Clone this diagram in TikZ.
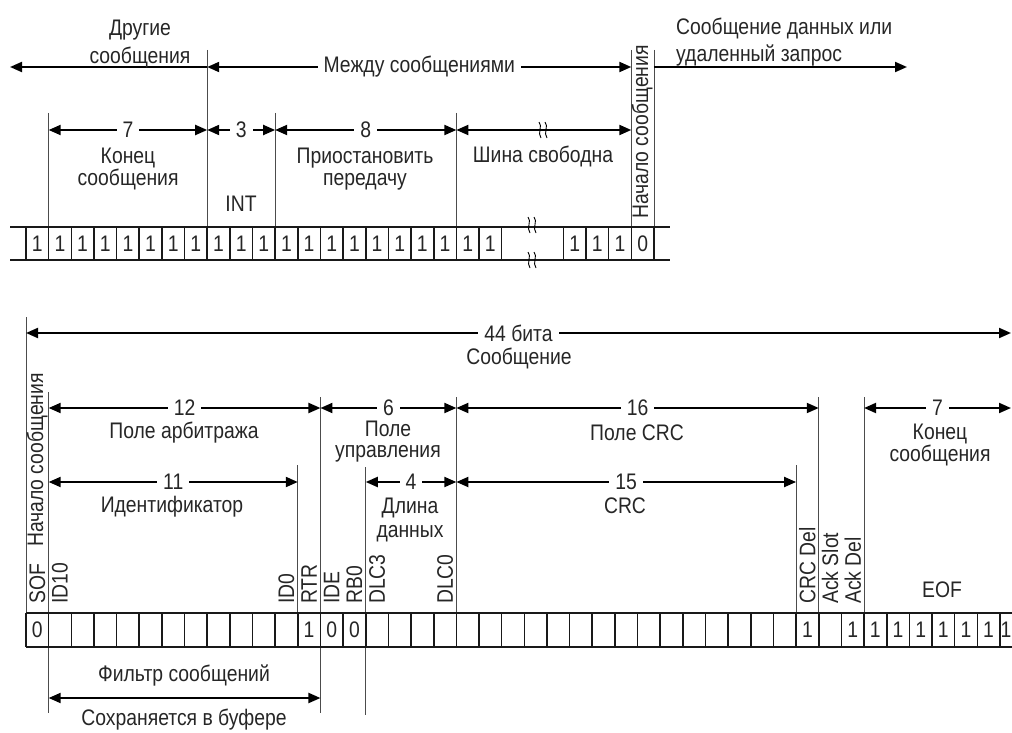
\documentclass[tikz,border=0pt]{standalone}
\usepackage{fontspec}
\setmainfont{Liberation Sans}[FakeStretch=0.86]
\usetikzlibrary{arrows.meta}

% left edge of bit k in the frame
\newcommand{\bitx}[1]{26+22.65*#1}
% break mark
\newcommand{\brkmark}[2]{%
  \begin{scope}[shift={(#1,#2)}]
    \draw[line width=0.9pt] (-4,-8) .. controls (0,-4) and (-6,3) .. (-2,8)
                            (2,-8) .. controls (6,-4) and (0,3) .. (4,8);
  \end{scope}}

\begin{document}
\begin{tikzpicture}[x=1pt,y=-1pt,
    dimline/.style={line width=2pt,{Triangle[length=12pt,width=10pt]}-{Triangle[length=12pt,width=10pt]}},
    dimto/.style={line width=2pt,-{Triangle[length=12pt,width=10pt]}},
    guide/.style={line width=0.9pt,black!70},
    cellrule/.style={line width=1.6pt,black!90},
    txt/.style={font=\fontsize{22.5}{26}\selectfont,text=black!85,inner sep=1pt,align=center},
    num/.style={txt,fill=white,inner xsep=6pt,inner ysep=0pt},
    vtxt/.style={txt,rotate=90,anchor=west,inner sep=0pt},
    bit/.style={txt,inner sep=0pt}]
  \useasboundingbox (0,0) rectangle (1012,733);
  \clip (0,0) rectangle (1012,733);

  % Interframe space: guides
  \foreach \gx/\gy in {207.2/50, 48.65/113, 275.15/113, 456.35/113, 631.3/50, 653.95/50}
    \draw[guide] (\gx,\gy) -- (\gx,227);

  % Interframe space: arrows
  \draw[dimto] (207.2,67) -- (10,67);
  \draw[dimline] (207.2,67) -- (631.3,67) node[num,midway] (betw) {Между сообщениями};
  \draw[dimto] (653.95,67) -- (907,67);
  \node[txt] (othr) at (140,44) {Другие\\[2pt]сообщения};
  \node[txt,anchor=west,align=left] (next) at (675,42) {Сообщение данных или\\[1pt]удаленный запрос};

  \draw[dimline] (48.65,130) -- (207.2,130) node[num,midway] (t7) {7};
  \draw[dimline] (207.2,130) -- (275.15,130) node[num,midway] (t3) {3};
  \draw[dimline] (275.15,130) -- (456.35,130) node[num,midway] (t8) {8};
  \draw[dimline] (456.35,130) -- (631.3,130);
  \brkmark{543}{130}

  \node[txt] (eom) at (128,169) {Конец\\[-4pt]сообщения};
  \node[txt] (int) at (241,204) {INT};
  \node[txt] (susp) at (365,169) {Приостановить\\[-4pt]передачу};
  \node[txt] (idle) at (543,156) {Шина свободна};
  \node[txt,rotate=90] (soft) at (642,132) {Начало сообщения};

  % Interframe space: bit stream
  \draw[cellrule] (10,227) -- (670,227) (10,260) -- (670,260);
  \foreach \k in {0,...,21}
    \draw[cellrule] (\bitx{\k},227) -- ++(0,33);
  \foreach \k in {0,...,4}
    \draw[cellrule] (563.35+22.65*\k,227) -- ++(0,33);
  \foreach \k in {0,...,20}
    \node[bit] (s\k) at (\bitx{\k}+11.3,243.5) {1};
  \foreach \k/\v in {0/1,1/1,2/1,3/0}
    \node[bit] (r\k) at (574.7+22.65*\k,243.5) {\v};
  \brkmark{532}{225}
  \brkmark{532}{260}

  % Data frame: guides
  \foreach \k/\gy/\gb in {0/317/613, 1/392/713, 12/465/613, 13/397/713, 15/467/715,
                          19/397/613, 34/465/613, 35/397/613, 37/397/613}
    \draw[guide] (\bitx{\k},\gy) -- (\bitx{\k},\gb);

  % Data frame: arrows
  \draw[dimline] (26,333) -- (1011,333) node[num,midway] (n44) {44 бита};
  \node[txt] (msg) at (519,358) {Сообщение};

  \draw[dimline] (\bitx{1},408) -- (\bitx{13},408) node[num,midway] (n12) {12};
  \draw[dimline] (\bitx{13},408) -- (\bitx{19},408) node[num,midway] (n6) {6};
  \draw[dimline] (\bitx{19},408) -- (\bitx{35},408) node[num,midway] (n16) {16};
  \draw[dimline] (\bitx{37},408) -- (1011,408) node[num,midway] (n7) {7};
  \node[txt] (arb) at (184,433) {Поле арбитража};
  \node[txt] (ctrl) at (388,442) {Поле\\[-5pt]управления};
  \node[txt] (crcf) at (637,433) {Поле CRC};
  \node[txt] (eof) at (940,445) {Конец\\[-4pt]сообщения};

  \draw[dimline] (\bitx{1},482) -- (\bitx{12},482) node[num,midway] (n11) {11};
  \draw[dimline] (\bitx{15},482) -- (\bitx{19},482) node[num,midway] (n4) {4};
  \draw[dimline] (\bitx{19},482) -- (\bitx{34},482) node[num,midway] (n15) {15};
  \node[txt] (ident) at (172,507) {Идентификатор};
  \node[txt] (dlen) at (410,520) {Длина\\[-2pt]данных};
  \node[txt] (crc) at (625,506) {CRC};

  % Data frame: field names
  \node[vtxt] (sofb) at (37,547) {Начало сообщения};
  \foreach \k/\t in {0/SOF,1/ID10,11/ID0,12/RTR,13/IDE,14/RB0,15/DLC3,18/DLC0,
                     34/CRC Del,35/Ack Slot,36/Ack Del}
    \node[vtxt] (f\k) at (\bitx{\k}+11.3,604) {\t};
  \node[txt] (eofl) at (942,590) {EOF};

  % Data frame: bits
  \draw[cellrule] (26,613) -- (1012,613) (26,647) -- (1012,647);
  \foreach \k in {0,...,43}
    \draw[cellrule] (\bitx{\k},613) -- ++(0,34);
  \foreach \k/\v in {0/0,12/1,13/0,14/0,34/1,36/1,37/1,38/1,39/1,40/1,41/1,42/1}
    \node[bit] (b\k) at (\bitx{\k}+11.3,630) {\v};
  \node[bit] (b43) at (1006,630) {1};

  % Acceptance filter
  \node[txt] (filt) at (184,675) {Фильтр сообщений};
  \draw[dimline] (\bitx{1},698) -- (\bitx{13},698);
  \node[txt] (buf) at (184,720) {Сохраняется в буфере};
\end{tikzpicture}
\end{document}
